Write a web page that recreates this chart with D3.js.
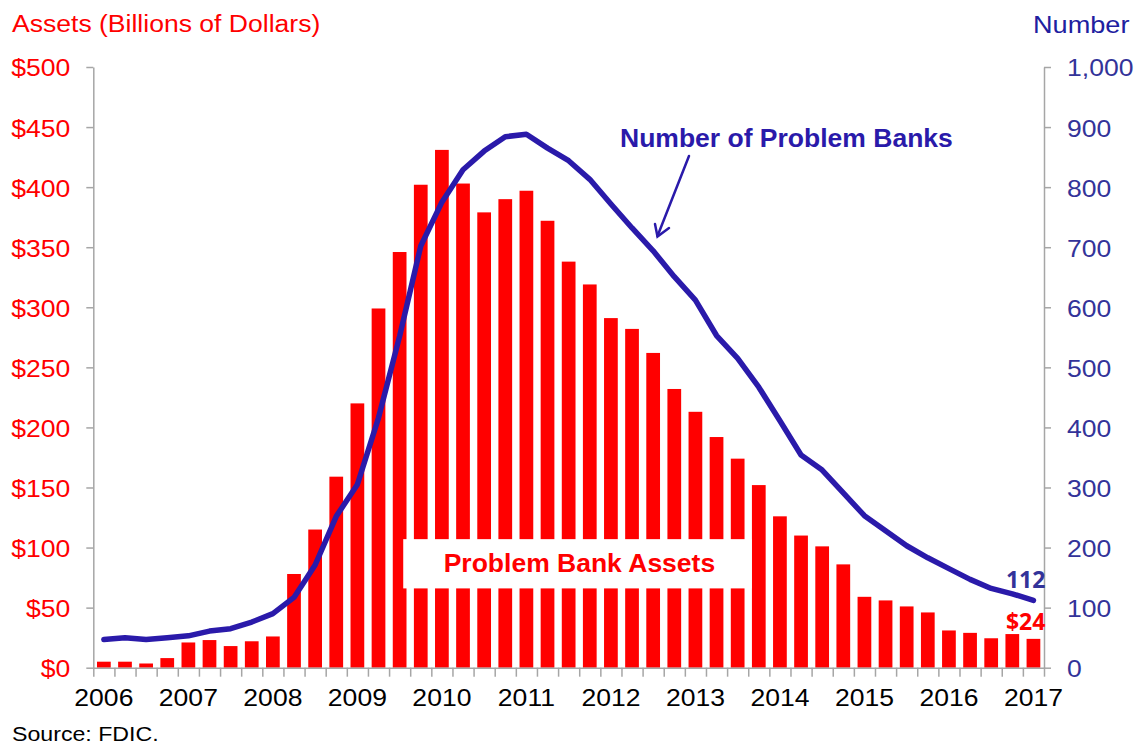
<!DOCTYPE html>
<html>
<head>
<meta charset="utf-8">
<script src="https://cdn.jsdelivr.net/npm/d3@7"></script>
<style>
  body { margin: 0; background: #fff; }
  svg { display: block; }
</style>
</head>
<body>
<div id="chart"></div>
<script>
// Problem banks, quarterly from 2006Q1 to 2017Q1
var years = [2006, 2007, 2008, 2009, 2010, 2011, 2012, 2013, 2014, 2015, 2016, 2017];
var quarters = [];
years.forEach(function (y) {
    ["Q1", "Q2", "Q3", "Q4"].forEach(function (q) {
        if (y < 2017 || q === "Q1") quarters.push(y + q);
    });
});

// Problem bank assets, billions of dollars
var assets = [5, 5, 3.5, 8, 21, 23, 18, 22, 26, 78, 115, 159,
    220, 299, 346, 402, 431, 403, 379, 390, 397, 372, 338, 319,
    291, 282, 262, 232, 213, 192, 174, 152, 126, 110, 101, 86,
    59, 56, 51, 46, 31, 29, 24.5, 28, 24];

// Number of problem banks
var banks = [47, 50, 47, 50, 53, 61, 65, 76, 90, 117, 171, 252,
    305, 416, 552, 702, 775, 829, 860, 884, 888, 865, 844, 813,
    772, 732, 694, 651, 612, 553, 515, 467, 411, 354, 329, 291,
    253, 228, 203, 183, 165, 147, 132, 123, 112];

var assetTicks = [0, 50, 100, 150, 200, 250, 300, 350, 400, 450, 500];
var bankTicks = [0, 100, 200, 300, 400, 500, 600, 700, 800, 900, 1000];

var width = 1137, height = 745;
var plotLeft = 93.3, plotRight = 1044, plotTop = 67, plotBottom = 667.7;
var font = "'Liberation Sans', Arial, sans-serif";
var sx = 1.13; // the source text is drawn a little wide
var lineColor = "#2a1aaa";
var axisColor = "#a6a6a6";

var svg = d3.select("#chart").append("svg")
    .attr("width", width)
    .attr("height", height);

var x = d3.scaleBand()
    .domain(quarters)
    .range([plotLeft, plotRight])
    .paddingInner(0.35)
    .paddingOuter(0.175);

// quarter index scale, used for the tick marks between bars
var xq = d3.scaleLinear().domain([0, quarters.length]).range([plotLeft, plotRight]);

var yLeft = d3.scaleLinear().domain([0, 500]).range([plotBottom, plotTop]);
var yRight = d3.scaleLinear().domain([0, 1000]).range([plotBottom, plotTop]);

function stretch(sel) {
    sel.each(function () {
        var t = d3.select(this);
        var tx = +t.attr("x") || 0, ty = +t.attr("y") || 0;
        t.attr("x", 0).attr("y", 0)
            .attr("transform", "translate(" + tx + "," + ty + ") scale(" + sx + ",1)");
    });
}

function styleAxis(g) {
    g.selectAll(".domain").attr("stroke", axisColor).attr("stroke-width", 1.5);
    g.selectAll(".tick line").attr("stroke", axisColor).attr("stroke-width", 1.5);
}

// bars
svg.append("g")
    .selectAll("rect")
    .data(assets)
    .enter()
    .append("rect")
    .attr("x", function (d, i) { return x(quarters[i]); })
    .attr("y", function (d) { return yLeft(d); })
    .attr("width", x.bandwidth())
    .attr("height", function (d) { return plotBottom - yLeft(d); })
    .attr("fill", "#ff0000");

// white label box over the bars
svg.append("rect")
    .attr("x", xq(14.67))
    .attr("y", yLeft(107))
    .attr("width", xq(31.16) - xq(14.67))
    .attr("height", yLeft(66) - yLeft(107))
    .attr("fill", "#fff");

svg.append("text")
    .attr("x", (xq(14.67) + xq(31.16)) / 2 + 2)
    .attr("y", yLeft(80))
    .attr("text-anchor", "middle")
    .attr("fill", "#ff0000")
    .style("font-family", font)
    .style("font-weight", "bold")
    .style("font-size", "26.5px")
    .text("Problem Bank Assets");

// left axis
var gLeft = svg.append("g")
    .attr("transform", "translate(" + plotLeft + ",0)")
    .call(d3.axisLeft(yLeft).tickValues(assetTicks)
        .tickFormat(function (d) { return "$" + d; })
        .tickSize(7).tickSizeOuter(0).tickPadding(16));
styleAxis(gLeft);
gLeft.selectAll("text")
    .attr("fill", "#ff0000")
    .attr("dy", "0.38em")
    .style("font-family", font)
    .style("font-size", "23.5px");
stretch(gLeft.selectAll("text"));

// right axis
var gRight = svg.append("g")
    .attr("transform", "translate(" + plotRight + ",0)")
    .call(d3.axisRight(yRight).tickValues(bankTicks)
        .tickFormat(d3.format(","))
        .tickSize(7).tickSizeOuter(0).tickPadding(16));
styleAxis(gRight);
gRight.selectAll("text")
    .attr("fill", "#333399")
    .attr("dy", "0.38em")
    .style("font-family", font)
    .style("font-size", "23.5px");
stretch(gRight.selectAll("text"));

// bottom axis: tick marks between quarters
var gBottom = svg.append("g")
    .attr("transform", "translate(0," + plotBottom + ")")
    .call(d3.axisBottom(xq).tickValues(d3.range(quarters.length + 1))
        .tickFormat("").tickSize(9).tickSizeOuter(0));
styleAxis(gBottom);

// year labels under the first quarter of each year
var gYears = svg.append("g")
    .attr("transform", "translate(0," + plotBottom + ")")
    .call(d3.axisBottom(x).tickValues(years.map(function (y) { return y + "Q1"; }))
        .tickFormat(function (d) { return d.slice(0, 4); })
        .tickSize(0).tickPadding(22));
gYears.select(".domain").remove();
gYears.selectAll("text")
    .attr("fill", "#000")
    .style("font-family", font)
    .style("font-size", "23.5px");
stretch(gYears.selectAll("text"));

// number of problem banks line
var line = d3.line()
    .x(function (d, i) { return x(quarters[i]) + x.bandwidth() / 2; })
    .y(function (d) { return yRight(d); });

svg.append("path")
    .datum(banks)
    .attr("d", line)
    .attr("fill", "none")
    .attr("stroke", lineColor)
    .attr("stroke-width", 5.5)
    .attr("stroke-linejoin", "round")
    .attr("stroke-linecap", "round");

// annotation
svg.append("text")
    .attr("x", 620)
    .attr("y", 147)
    .attr("fill", lineColor)
    .style("font-family", font)
    .style("font-weight", "bold")
    .style("font-size", "26.5px")
    .text("Number of Problem Banks");

var arrow = svg.append("g")
    .attr("fill", "none")
    .attr("stroke", lineColor)
    .attr("stroke-width", 2.5)
    .attr("stroke-linecap", "round");
arrow.append("line").attr("x1", 689).attr("y1", 156).attr("x2", 657.5).attr("y2", 236);
arrow.append("polyline").attr("points", "655,224 657.5,236.5 669,228");

// end labels
var lastX = x(quarters[quarters.length - 1]) + x.bandwidth() / 2;
svg.append("text")
    .attr("x", lastX + 12)
    .attr("y", yRight(banks[banks.length - 1]) - 12)
    .attr("text-anchor", "end")
    .attr("fill", "#333399")
    .style("font-family", "'Open Sans', sans-serif")
    .style("font-weight", "bold")
    .style("font-size", "23px")
    .text(banks[banks.length - 1]);

svg.append("text")
    .attr("x", lastX + 12)
    .attr("y", yLeft(assets[assets.length - 1]) - 9)
    .attr("text-anchor", "end")
    .attr("fill", "#ff0000")
    .style("font-family", "'Open Sans', sans-serif")
    .style("font-weight", "bold")
    .style("font-size", "23px")
    .text("$" + assets[assets.length - 1]);

// titles and source
function addText(str, tx, ty, color, size) {
    svg.append("text")
        .attr("transform", "translate(" + tx + "," + ty + ") scale(" + sx + ",1)")
        .attr("fill", color)
        .style("font-family", font)
        .style("font-size", size)
        .text(str);
}
addText("Assets (Billions of Dollars)", 12, 32, "#ff0000", "23.5px");
addText("Number", 1033, 33, "#2020a0", "24px");
addText("Source: FDIC.", 12, 741, "#000", "20.5px");
</script>
</body>
</html>
